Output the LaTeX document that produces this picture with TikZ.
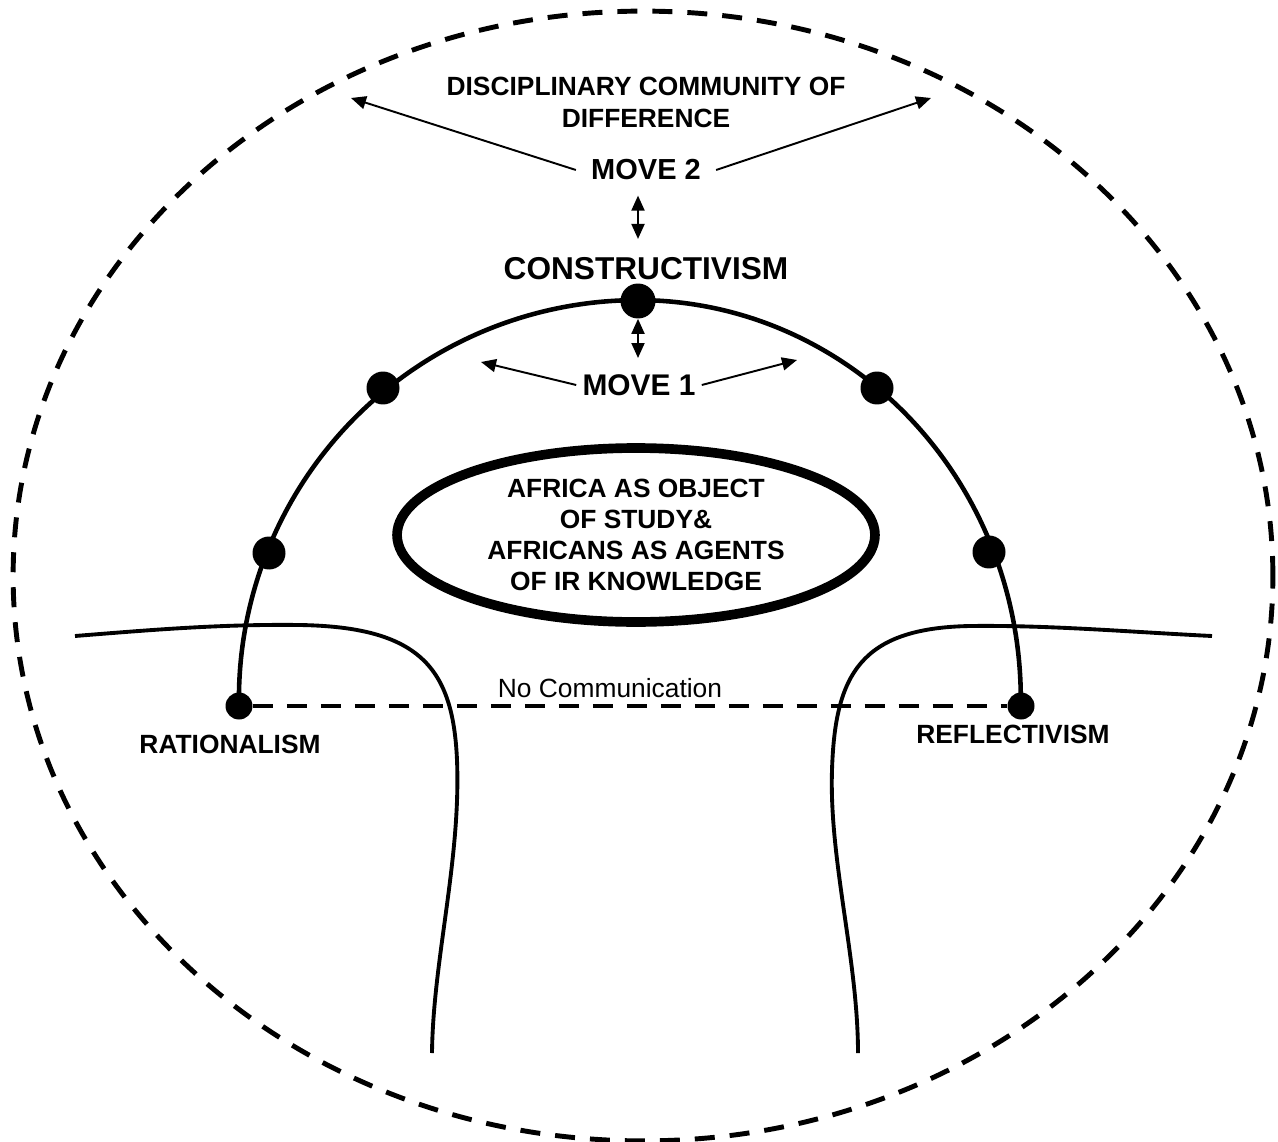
\documentclass[tikz,border=0pt]{standalone}
\usepackage{fontspec}
\setmainfont{Liberation Sans}
\usetikzlibrary{arrows.meta,shapes.geometric}
\begin{document}
\begin{tikzpicture}[x=0.02cm,y=-0.02cm]
\tikzstyle{bigdot}=[circle,fill=black,minimum size=0.66cm,inner sep=0pt]
\tikzstyle{enddot}=[circle,fill=black,minimum size=0.54cm,inner sep=0pt]
\tikzstyle{lbl}=[font=\bfseries\fontsize{15}{18}\selectfont,align=center]
\tikzstyle{movelbl}=[font=\bfseries\fontsize{16.5}{19}\selectfont]
\tikzstyle{arr}=[draw,line width=1.1pt,-{Triangle[length=0.3cm,width=0.26cm]}]
\tikzstyle{dblarr}=[draw,line width=1.1pt,{Triangle[length=0.3cm,width=0.26cm]}-{Triangle[length=0.3cm,width=0.26cm]}]
\tikzstyle{divide}=[line width=2.2pt]
\tikzstyle{nolink}=[draw,line width=2.8pt,dash pattern=on 0.4cm off 0.28cm]
    \useasboundingbox (0,0) rectangle (1278,1142);
    \draw[line width=2.8pt,dash pattern=on 0.4cm off 0.3cm] (643,576) ellipse [x radius=12.6cm,y radius=11.3cm];
    \node[lbl,font=\bfseries\fontsize{15}{18.2}\selectfont] (dcd) at (646,102) {DISCIPLINARY COMMUNITY OF\\DIFFERENCE};
    \node[movelbl,inner sep=0.3cm] (move2) at (646,170) {MOVE 2};
    \node[lbl,font=\bfseries\fontsize{18}{21}\selectfont,inner sep=0.37cm] (constr) at (646,269) {CONSTRUCTIVISM};
    \node[movelbl,font=\bfseries\fontsize{17}{20}\selectfont,inner sep=0.12cm] (move1) at (639,385) {MOVE 1};
    \node[bigdot,minimum size=0.7cm] (cdot) at (638,301) {};
    \node[bigdot] (dl1) at (383,388) {};
    \node[bigdot] (dl2) at (269,553) {};
    \node[bigdot] (dr1) at (877,388) {};
    \node[bigdot] (dr2) at (989,552) {};
    \node[enddot] (ratdot) at (239,706) {};
    \node[enddot] (refdot) at (1021,706) {};
    \draw[line width=2.6pt] (ratdot.center) arc[start angle=181,end angle=90,radius=7.98cm]
        arc[start angle=90,end angle=-1,x radius=7.66cm,y radius=7.98cm];
    \node[draw,ellipse,line width=5.5pt,minimum width=9.56cm,minimum height=3.48cm,inner sep=0pt,
        font=\bfseries\fontsize{15}{17.6}\selectfont,align=center] (africa) at (636,535)
        {AFRICA AS OBJECT\\OF STUDY\&\\AFRICANS AS AGENTS\\OF IR KNOWLEDGE};
    \draw[divide] (75,636) .. controls (150,630) and (220,624) .. (300,625)
        .. controls (420,627) and (453,668) .. (457,760)
        .. controls (461,860) and (433,960) .. (432,1053);
    \draw[divide] (1212,636) .. controls (1130,632) and (1050,625) .. (970,626)
        .. controls (860,628) and (835,675) .. (832,770)
        .. controls (829,860) and (858,960) .. (858,1053);
    \node[font=\fontsize{15}{18}\selectfont] (nocomm) at (610,688) {No Communication};
    \node[lbl] (ratl) at (230,744) {RATIONALISM};
    \node[lbl] (refl) at (1013,734) {REFLECTIVISM};
    \coordinate (d2l) at (351,98);
    \coordinate (d2r) at (931,98);
    \coordinate (m1l) at (481,362);
    \coordinate (m1r) at (797,360);
    \coordinate (m1t) at (638,358);
    \path (move2.west) edge[arr] (d2l);
    \path (move2.east) edge[arr] (d2r);
    \path (move2.south -| cdot) edge[dblarr] (constr.north -| cdot);
    \path (move1.west) edge[arr] (m1l);
    \path (move1.east) edge[arr] (m1r);
    \path (cdot) edge[dblarr] (m1t);
    \path (ratdot) edge[nolink] (refdot);
\end{tikzpicture}
\end{document}
